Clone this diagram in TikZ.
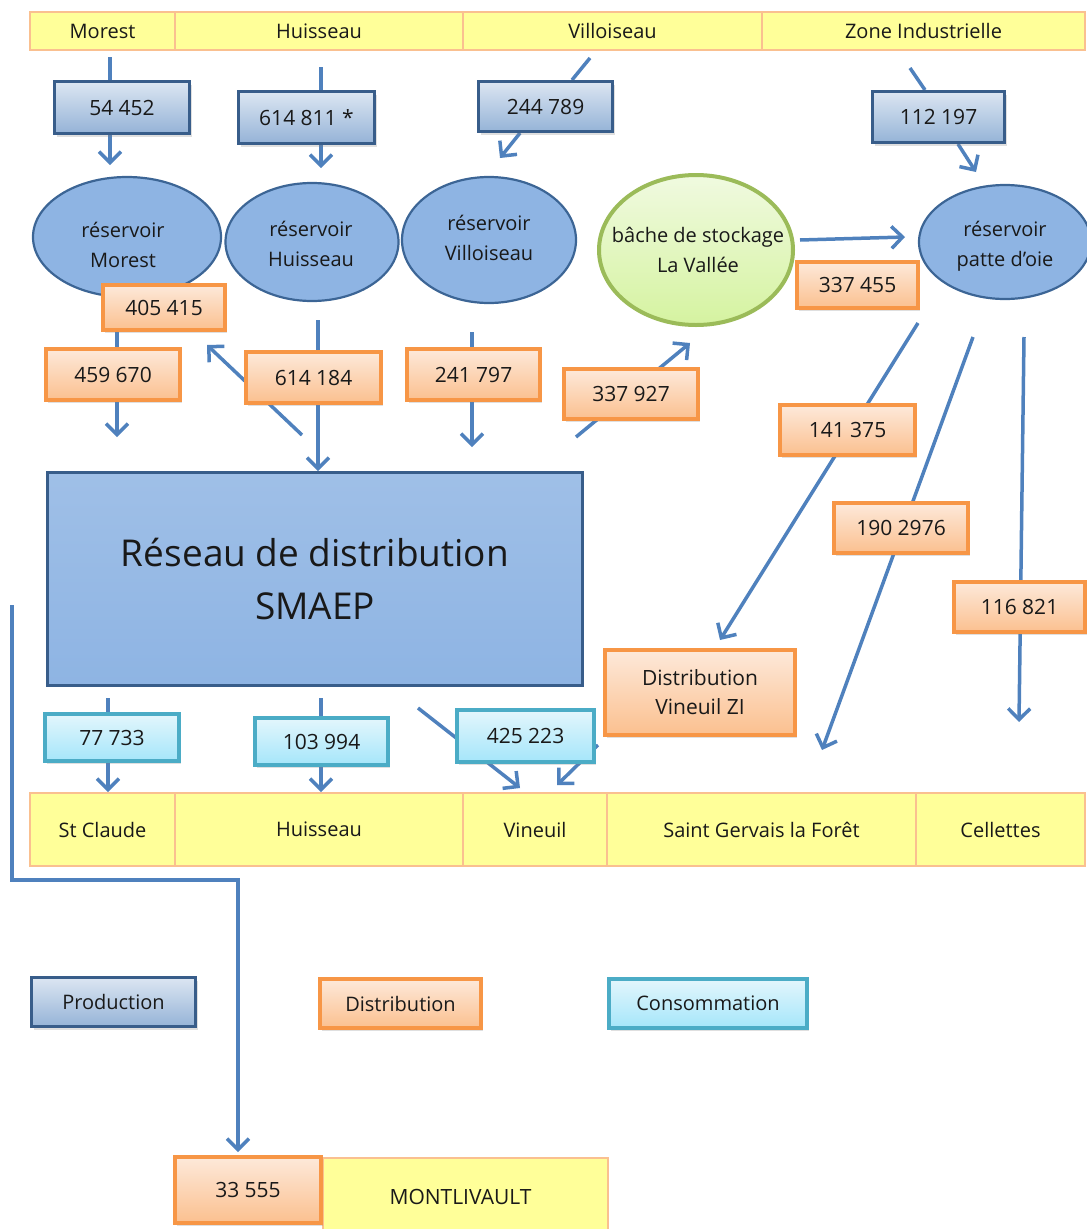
\documentclass[tikz,border=0pt]{standalone}
\usepackage{fontspec}
\setmainfont{Open Sans}
\usetikzlibrary{arrows.meta,shapes.geometric,shadows}
\pgfdeclarelayer{bg}
\pgfsetlayers{bg,main}
\definecolor{prodB}{HTML}{385D8A}
\definecolor{prodT}{HTML}{DCE6F2}
\definecolor{prodBo}{HTML}{95B3D7}
\definecolor{distB}{HTML}{F79646}
\definecolor{distT}{HTML}{FDE9DA}
\definecolor{distBo}{HTML}{FBC08F}
\definecolor{consB}{HTML}{4BACC6}
\definecolor{consT}{HTML}{E3F6FC}
\definecolor{consBo}{HTML}{A5E6FA}
\definecolor{resF}{HTML}{8EB4E3}
\definecolor{resB}{HTML}{3C6595}
\definecolor{bacheB}{HTML}{9BBB59}
\definecolor{bacheT}{HTML}{F0FAE0}
\definecolor{bacheBo}{HTML}{D5F3A0}
\definecolor{cellF}{HTML}{FFFF99}
\definecolor{cellB}{HTML}{FAC090}
\definecolor{flowC}{HTML}{4F81BD}
\tikzset{
  box/.style={rectangle, inner sep=0pt, align=center, text=black!90,
    font=\fontsize{21}{29}\selectfont},
  shad/.style={drop shadow={opacity=0.25,shadow xshift=2pt,shadow yshift=-3pt}},
  prod/.style={box, shad, draw=prodB, line width=3pt, top color=prodT, bottom color=prodBo},
  dist/.style={box, shad, draw=distB, line width=4pt, top color=distT, bottom color=distBo},
  cons/.style={box, shad, draw=consB, line width=4pt, top color=consT, bottom color=consBo},
  cell/.style={rectangle, inner sep=0pt, draw=cellB, line width=2pt, fill=cellF,
    text=black!90, font=\fontsize{20}{24}\selectfont},
  resv/.style={ellipse, inner sep=0pt, draw=resB, line width=2.2pt, fill=resF},
  rtext/.style={align=center, inner sep=0pt, text=black!90, font=\fontsize{20}{30}\selectfont},
  flow/.style={draw=flowC, line width=3.5pt},
  arr/.style={flow, -{Straight Barb[length=11pt,width=22pt]}},
}
\begin{document}
\begin{tikzpicture}[x=1pt,y=-1pt]
\useasboundingbox (0,0) rectangle (1087,1229);
% header
\node[cell, minimum width=145, minimum height=38] (h1) at (102.5,31) {Morest};
\node[cell, minimum width=288, minimum height=38] (h2) at (319,31) {Huisseau};
\node[cell, minimum width=299, minimum height=38] (h3) at (612.5,31) {Villoiseau};
\node[cell, minimum width=323, minimum height=38] (h4) at (923.5,31) {Zone Industrielle};
% production
\node[prod, minimum width=135, minimum height=52] (p1) at (122,107.5) {54 452};
\node[prod, minimum width=136, minimum height=52] (p2) at (306.5,117.5) {614 811 *};
\node[prod, minimum width=134, minimum height=50] (p3) at (545.5,106.5) {244 789};
\node[prod, minimum width=132, minimum height=51] (p4) at (938.5,117) {112 197};
% reservoirs
\node[resv, minimum width=188, minimum height=120] (e1) at (127,237) {};
\node[rtext] (e1t) at (123,245) {réservoir\\Morest};
\node[resv, minimum width=173, minimum height=118] (e2) at (312,242) {};
\node[rtext] (e2t) at (311,244) {réservoir\\Huisseau};
\node[resv, minimum width=174, minimum height=126] (e3) at (489,240) {};
\node[rtext] (e3t) at (489,238) {réservoir\\Villoiseau};
\node[resv, draw=bacheB, line width=4pt, top color=bacheT, bottom color=bacheBo,
  minimum width=194, minimum height=150] (e4) at (696,250) {};
\node[rtext] (e4t) at (698,250) {bâche de stockage\\La Vallée};
\node[resv, minimum width=172, minimum height=114] (e5) at (1005,242) {};
\node[rtext] (e5t) at (1005,246) {réservoir\\patte d'oie};
% distribution
\node[dist, minimum width=122, minimum height=45] (d1) at (164,307.5) {405 415};
\node[dist, minimum width=134, minimum height=51] (d2) at (113,374.5) {459 670};
\node[dist, minimum width=135, minimum height=51] (d3) at (313.5,377.5) {614 184};
\node[dist, minimum width=133, minimum height=51] (d4) at (473.5,374.5) {241 797};
\node[dist, minimum width=134, minimum height=50] (d5) at (631,394) {337 927};
\node[dist, minimum width=121, minimum height=46] (d6) at (857.5,285) {337 455};
\node[dist, minimum width=135, minimum height=50] (d7) at (847.5,430) {141 375};
\node[dist, minimum width=134, minimum height=50] (d8) at (901,528) {190 2976};
\node[dist, minimum width=131, minimum height=50] (d9) at (1019.5,607) {116 821};
\node[dist, minimum width=190, minimum height=85] (d10) at (700,692.5) {Distribution\\Vineuil ZI};
% network
\node[box, draw=prodB, line width=3pt, top color=resF!85!white, bottom color=resF,
  minimum width=535, minimum height=213, font=\fontsize{37}{53}\selectfont] (R) at (315,579)
  {Réseau de distribution\\SMAEP};
% consumption
\node[cons, minimum width=134, minimum height=47] (c1) at (112,737.5) {77 733};
\node[cons, minimum width=133, minimum height=47] (c2) at (321.5,741.5) {103 994};
\node[cons, minimum width=137, minimum height=52] (c3) at (525.5,736) {425 223};
% bottom table
\node[cell, minimum width=145, minimum height=73] (b1) at (102.5,829.5) {St Claude};
\node[cell, minimum width=288, minimum height=73] (b2) at (319,829.5) {Huisseau};
\node[cell, minimum width=144, minimum height=73] (b3) at (535,829.5) {Vineuil};
\node[cell, minimum width=309, minimum height=73] (b4) at (761.5,829.5) {Saint Gervais la Forêt};
\node[cell, minimum width=169, minimum height=73] (b5) at (1000.5,829.5) {Cellettes};
% legend
\node[prod, minimum width=164, minimum height=49, font=\fontsize{20}{24}\selectfont] (l1) at (113.5,1002) {Production};
\node[dist, minimum width=161, minimum height=49, font=\fontsize{20}{24}\selectfont] (l2) at (400.5,1003.5) {Distribution};
\node[cons, minimum width=198, minimum height=49, font=\fontsize{20}{24}\selectfont] (l3) at (708,1003.5) {Consommation};
% Montlivault
\node[cell, minimum width=285, minimum height=78, font=\fontsize{21}{25}\selectfont] (m) at (465.5,1197) {\hspace*{-10pt}MONTLIVAULT};
\node[dist, minimum width=146, minimum height=66] (d11) at (248,1190) {33 555};
% connectors
\begin{pgfonlayer}{bg}
\coordinate (a1) at (110,57);
\draw[flow] (a1) -- (a1 |- p1.north);
\draw[arr] (a1 |- p1.south) -- (110,165) coordinate (a1e);
\coordinate (a2) at (321,67);
\draw[flow] (a2) -- (a2 |- p2.north);
\draw[arr] (a2 |- p2.south) -- (321,168) coordinate (a2e);
\coordinate (a3) at (590,58);
\coordinate (a3b) at (572,80);
\draw[flow] (a3) -- (a3b);
\coordinate (a3c) at (520,133);
\coordinate (a3e) at (500,158);
\draw[arr] (a3c) -- (a3e);
\coordinate (a4) at (910,68);
\coordinate (a4b) at (925,90);
\draw[flow] (a4) -- (a4b);
\coordinate (a4c) at (958,144);
\coordinate (a4e) at (976,172);
\draw[arr] (a4c) -- (a4e);
% reservoirs to distribution
\coordinate (i1) at (117,300);
\draw[flow] (i1) -- (i1 |- d2.north);
\draw[arr] (i1 |- d2.south) -- (117,437) coordinate (i1e);
\coordinate (k1) at (318,320);
\draw[flow] (k1) -- (k1 |- d3.north);
\draw[arr] (k1 |- d3.south) -- (k1 |- R.north);
\coordinate (m0) at (302,435);
\coordinate (m1) at (207,345);
\draw[arr] (m0) -- (m1);
\coordinate (n1) at (472,332);
\draw[flow] (n1) -- (n1 |- d4.north);
\draw[arr] (n1 |- d4.south) -- (472,447) coordinate (n1e);
\coordinate (p0) at (576,437);
\coordinate (p1e) at (690,343);
\draw[arr] (p0) -- (p1e);
\coordinate (q0) at (800,240);
\coordinate (q1) at (905,237);
\draw[arr] (q0) -- (q1);
\coordinate (r0) at (918,323);
\draw[arr] (r0) -- (720,640) coordinate (r1);
\coordinate (s0) at (973,337);
\coordinate (s1) at (822,750);
\draw[arr] (s0) -- (s1);
\coordinate (t0) at (1024,337);
\coordinate (t1) at (1019,722);
\draw[arr] (t0) -- (t1);
% network to consumption
\coordinate (u0) at (108,698);
\draw[flow] (u0) -- (u0 |- c1.north);
\draw[arr] (u0 |- c1.south) -- (u0 |- b1.north);
\coordinate (w0) at (321,698);
\draw[flow] (w0) -- (w0 |- c2.north);
\draw[arr] (w0 |- c2.south) -- (w0 |- b2.north);
\coordinate (y0) at (418,708);
\coordinate (y1) at (520,788);
\draw[arr] (y0) -- (y1);
\coordinate (z0) at (598,745);
\coordinate (z1) at (557,785);
\draw[arr] (z0) -- (z1);
% Montlivault feed
\coordinate (L0) at (12,605);
\draw[arr, line join=miter] (L0) -- (12,880) -- (238,880) -- (238 ,1152);
\end{pgfonlayer}
\end{tikzpicture}
\end{document}
